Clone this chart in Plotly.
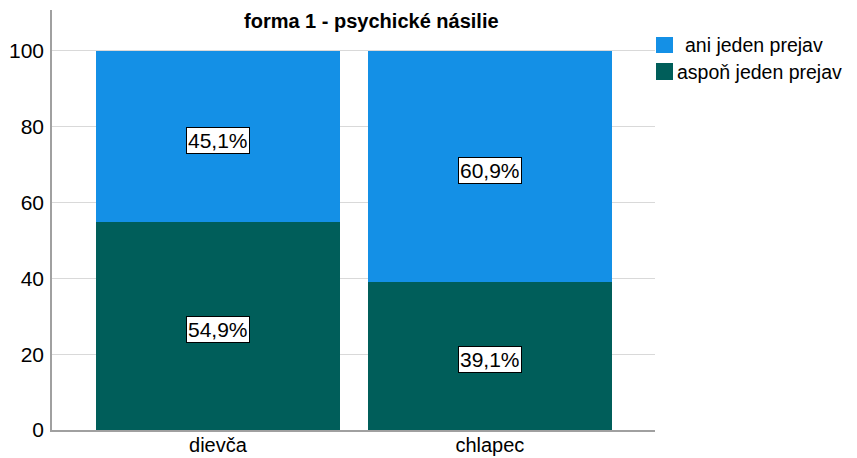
import plotly.graph_objects as go

categories = ["dievča", "chlapec"]
series_names = ["aspoň jeden prejav", "ani jeden prejav"]
aspon = [54.9, 39.1]
ani = [45.1, 60.9]
title_text = "forma 1 - psychické násilie"
y_ticks = [0, 20, 40, 60, 80, 100]

blue = "#1490E6"
teal = "#005E5A"
font = "Liberation Sans, Arial, sans-serif"

# The page body has an 8px margin; size the figure so it fits the 857x458 window.
W, H = 849, 450
L, R, T, B = 44, 202, 2, 28
PW, PH = W - L - R, H - T - B


def px(x):  # page-x (pixels) -> paper x
    return (x - 8 - L) / PW


def py(y):  # page-y (pixels) -> paper y
    return (H - B - (y - 8)) / PH


fig = go.Figure()
fig.add_trace(go.Bar(x=categories, y=aspon, name=series_names[0], marker=dict(color=teal, line=dict(width=0)),
                     width=0.897, showlegend=False))
fig.add_trace(go.Bar(x=categories, y=ani, name=series_names[1], marker=dict(color=blue, line=dict(width=0)),
                     width=0.897, showlegend=False))

annotations = []
for c, a, b in zip(categories, aspon, ani):
    for val, mid in ((a, a / 2), (b, a + b / 2)):
        annotations.append(dict(x=c, y=mid, xref="x", yref="y", text=f"{val:.1f}%".replace(".", ","),
                                showarrow=False, bgcolor="white", bordercolor="black", borderwidth=1,
                                borderpad=1, yshift=-4, font=dict(family=font, size=21, color="black")))
# title
annotations.append(dict(x=px(371), y=1, xref="paper", yref="paper", xanchor="center", yanchor="top",
                        yshift=2, text=f"<b>{title_text}</b>", showarrow=False,
                        font=dict(family=font, size=20, color="black")))

# legend (drawn manually to match the original's compact swatch/label spacing)
shapes = []
legend_rows = [(series_names[1], blue, 37, 53, 683), (series_names[0], teal, 63, 80, 675)]
for name, col, y0, y1, tx in legend_rows:
    shapes.append(dict(type="rect", xref="paper", yref="paper", x0=px(656), x1=px(673),
                       y0=py(y1), y1=py(y0), fillcolor=col, line=dict(width=0)))
    annotations.append(dict(x=px(tx), y=py((y0 + y1) / 2), xref="paper", yref="paper", xanchor="left",
                            yanchor="middle", text=name, showarrow=False,
                            font=dict(family=font, size=19.5, color="black")))

fig.update_layout(
    barmode="stack",
    width=W, height=H,
    margin=dict(l=L, r=R, t=T, b=B, autoexpand=False),
    paper_bgcolor="white", plot_bgcolor="white",
    font=dict(family=font, size=21, color="black"),
    annotations=annotations,
    shapes=shapes,
    showlegend=False,
)
fig.update_xaxes(range=[-0.61, 1.607], showline=True, linecolor="#a0a0a0", linewidth=1.5,
                 ticks="", showgrid=False, tickfont=dict(size=20), fixedrange=True, automargin=False,
                 ticklabelstandoff=-4)
fig.update_yaxes(range=[0, 110.8], tickvals=y_ticks, showline=True, linecolor="#a0a0a0", linewidth=1.5,
                 showgrid=True, gridcolor="#d9d9d9", gridwidth=1, ticks="", zeroline=False,
                 tickfont=dict(size=21), ticklabelstandoff=2, automargin=False)

fig.write_html("out.html")
